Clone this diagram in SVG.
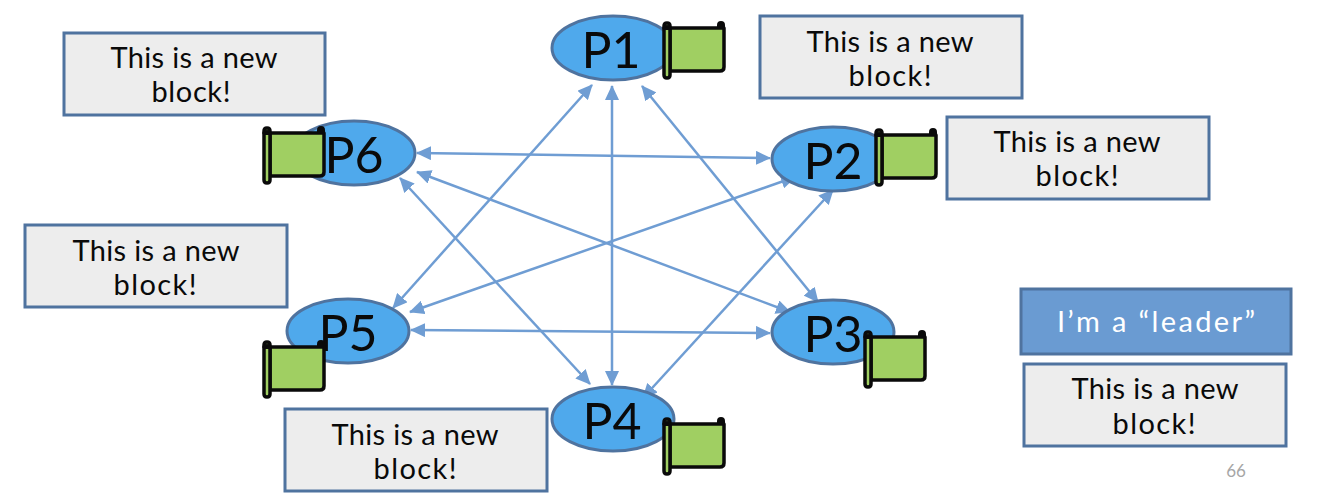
<svg xmlns="http://www.w3.org/2000/svg" width="1324" height="498" viewBox="0 0 1324 498">
<style>
text{font-family:"Lato","Liberation Sans",sans-serif;text-anchor:middle;fill:#0a0a0a}
.box{fill:#ededed;stroke:#4f739f;stroke-width:3}
.leader{fill:#6a9bd2;stroke:#4f739f;stroke-width:3}
.node{fill:#4fa9ec;stroke:#4f739f;stroke-width:3}
.t{font-size:29px}
.p{font-size:50px}
.conn line{stroke:#6f9dd3;stroke-width:2.5;marker-start:url(#a);marker-end:url(#a)}
.s{stroke:#0a0a0a;stroke-width:3.5;fill:#a0cf62;stroke-linejoin:round}
</style>
<defs>
<marker id="a" markerUnits="userSpaceOnUse" markerWidth="15" markerHeight="14" refX="14" refY="7" orient="auto-start-reverse"><path d="M0 0L15 7L0 14Z" fill="#6f9dd3"/></marker>
<g id="scroll">
<path class="s" d="M1 7H61V46Q61 50 57 50H7V7Z"/>
<path class="s" d="M1 5Q1 2 4 2T7 5V54Q7 57 4 57T1 54Z"/>
<path d="M1 8a3 3 0 0 1 6 0Z" fill="#0a0a0a" stroke="#0a0a0a" stroke-width="2"/>
<path d="M55 7V4a3 3 0 0 1 6 0V7Z" fill="#0a0a0a" stroke="#0a0a0a" stroke-width="2"/>
</g>
</defs>
<g id="connectors" class="conn">
<line x1="592" y1="85" x2="393" y2="308"/>
<line x1="612" y1="86" x2="612" y2="385"/>
<line x1="642" y1="86" x2="818" y2="302"/>
<line x1="417" y1="153" x2="770" y2="158"/>
<line x1="417" y1="172" x2="790" y2="312"/>
<line x1="400" y1="178" x2="590" y2="384"/>
<line x1="410" y1="312" x2="795" y2="177"/>
<line x1="411" y1="330" x2="770" y2="333"/>
<line x1="643" y1="398" x2="833" y2="190"/>
</g>
<g id="P1"><ellipse class="node" cx="613" cy="48" rx="61" ry="32"/><text class="p" x="611" y="68">P1</text><use href="#scroll" x="663" y="21"/></g>
<g id="P2"><ellipse class="node" cx="833" cy="159" rx="61" ry="32"/><text class="p" x="833" y="179">P2</text><use href="#scroll" x="875" y="128"/></g>
<g id="P3"><ellipse class="node" cx="833" cy="332" rx="61" ry="32"/><text class="p" x="833" y="352">P3</text><use href="#scroll" x="864" y="330"/></g>
<g id="P4"><ellipse class="node" cx="613" cy="419" rx="61" ry="32"/><text class="p" x="612" y="439">P4</text><use href="#scroll" x="663" y="417"/></g>
<g id="P5"><ellipse class="node" cx="348" cy="331" rx="61" ry="32"/><text class="p" x="348" y="351">P5</text><use href="#scroll" x="263" y="340"/></g>
<g id="P6"><ellipse class="node" cx="354" cy="153" rx="61" ry="32"/><use href="#scroll" x="263" y="126"/><text class="p" x="354" y="173">P6</text></g>
<g id="b1"><rect class="box" x="64" y="33" width="261" height="82"/><text class="t" x="194" y="68" textLength="167">This is a new</text><text class="t" x="191" y="102" textLength="79">block!</text></g>
<g id="b2"><rect class="box" x="760" y="16" width="262" height="82"/><text class="t" x="890" y="52" textLength="167">This is a new</text><text class="t" x="890" y="86" textLength="83">block!</text></g>
<g id="b3"><rect class="box" x="947" y="117" width="262" height="82"/><text class="t" x="1077" y="152" textLength="167">This is a new</text><text class="t" x="1077" y="186" textLength="83">block!</text></g>
<g id="b4"><rect class="box" x="25" y="225" width="262" height="82"/><text class="t" x="156" y="261" textLength="167">This is a new</text><text class="t" x="155" y="295" textLength="83">block!</text></g>
<g id="b5"><rect class="box" x="285" y="409" width="262" height="82"/><text class="t" x="415" y="445" textLength="167">This is a new</text><text class="t" x="415" y="479" textLength="83">block!</text></g>
<g id="leader"><rect class="leader" x="1021" y="289" width="270" height="65"/><text class="t" x="1156" y="332" textLength="198" style="fill:#fff">I’m a “leader”</text></g>
<g id="b6"><rect class="box" x="1024" y="364" width="262" height="82"/><text class="t" x="1155" y="399" textLength="167">This is a new</text><text class="t" x="1154" y="434" textLength="83">block!</text></g>
<text x="1236" y="477" style="font-size:17px;fill:#a6a6a6">66</text>
</svg>
